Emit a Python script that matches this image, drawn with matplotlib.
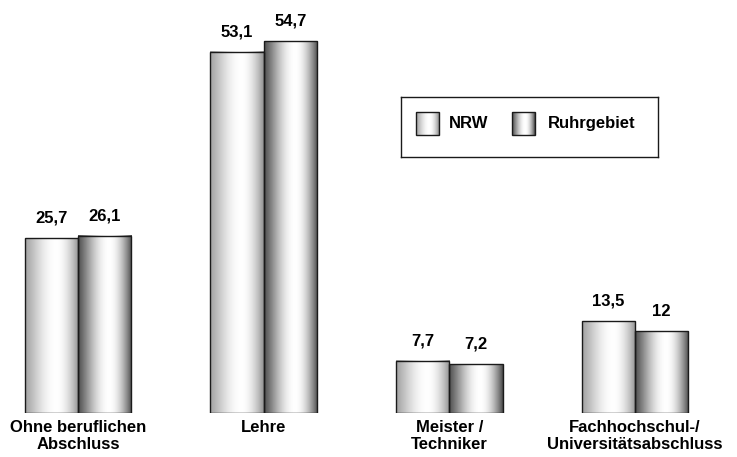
import numpy as np
import matplotlib.pyplot as plt
from matplotlib.patches import Rectangle

categories = ['Ohne beruflichen\nAbschluss', 'Lehre', 'Meister /\nTechniker',
              'Fachhochschul-/\nUniversitätsabschluss']
nrw = [25.7, 53.1, 7.7, 13.5]
ruhr = [26.1, 54.7, 7.2, 12.0]
series_names = ['NRW', 'Ruhrgebiet']

FONT = dict(fontsize=12, fontweight='bold', family='Liberation Sans')


def shade(edge_left, edge_right, peak=0.58, n=200):
    # horizontal cylinder-like shading: dark at edges, white near the peak
    t = np.linspace(0, 1, n)
    left = edge_left + (1.0 - edge_left) * np.sin(np.clip(t / peak, 0, 1) * np.pi / 2) ** 1.2
    right = edge_right + (1.0 - edge_right) * np.cos(np.clip((t - peak) / (1 - peak), 0, 1) * np.pi / 2) ** 0.9
    g = np.where(t <= peak, left, right)
    return np.dstack([g, g, g])[0][None, :, :]


grad_nrw = shade(0.64, 0.56)
grad_ruhr = shade(0.32, 0.28)


def shaded_bar(ax, x, w, h, grad):
    ax.imshow(grad, extent=[x, x + w, 0, h], aspect='auto', zorder=2,
              interpolation='bilinear')
    ax.add_patch(Rectangle((x, 0), w, h, fill=False, edgecolor='#1a1a1a',
                           linewidth=1.0, zorder=3))


fig = plt.figure(figsize=(7.37, 4.57), dpi=100)
ax = fig.add_axes([0, 44 / 457, 1, 413 / 457])
width = 0.287
x = np.arange(len(categories))

for i in range(len(categories)):
    shaded_bar(ax, x[i] - width, width, nrw[i], grad_nrw)
    shaded_bar(ax, x[i], width, ruhr[i], grad_ruhr)
    for xc, v in [(x[i] - width / 2, nrw[i]), (x[i] + width / 2, ruhr[i])]:
        lbl = ('%g' % v).replace('.', ',')
        ax.annotate(lbl, (xc, v), xytext=(0, 11), textcoords='offset points',
                    ha='center', va='baseline', **FONT)

ax.set_xlim(-0.42, 3.55)
ax.set_ylim(0, 413 / 6.8)
ax.set_xticks(x)
ax.set_xticklabels(categories, linespacing=1.15, **FONT)
ax.tick_params(axis='x', length=0, pad=5)
ax.set_yticks([])
for s in ax.spines.values():
    s.set_visible(False)

# legend box drawn in pixel-like coordinates
lax = fig.add_axes([401 / 737, 1 - 157 / 457, 257 / 737, 60 / 457])
lax.set_xlim(0, 257)
lax.set_ylim(0, 60)
lax.set_xticks([])
lax.set_yticks([])
for s in lax.spines.values():
    s.set_linewidth(1.0)
    s.set_color('#1a1a1a')
for px, grad, name, tx in [(15, grad_nrw, series_names[0], 48),
                           (111, grad_ruhr, series_names[1], 147)]:
    lax.imshow(grad, extent=[px, px + 23, 22, 45], aspect='auto', zorder=2)
    lax.add_patch(Rectangle((px, 22), 23, 23, fill=False, edgecolor='#1a1a1a',
                            linewidth=1.0, zorder=3))
    lax.text(tx, 33.5, name, ha='left', va='center', **FONT)

fig.savefig('out.png', dpi=100)
